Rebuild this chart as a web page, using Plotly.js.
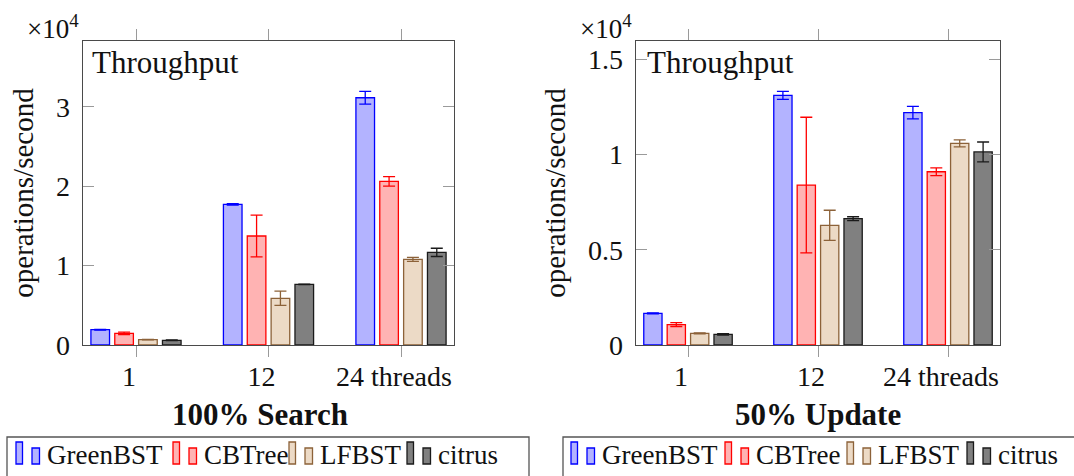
<!DOCTYPE html>
<html>
<head>
<meta charset="utf-8">
<script src="https://cdn.plot.ly/plotly-3.0.1.min.js"></script>
<style>
  html, body { margin: 0; padding: 0; background: #ffffff; }
  #chart { width: 1074px; height: 476px; }
</style>
</head>
<body>
<div id="chart"></div>
<script>
// ---- data (operations/second) ----
const threads = ['1', '12', '24'];
const tickLabels = ['1', '12', '24 threads'];
const seriesNames = ['GreenBST', 'CBTree', 'LFBST', 'citrus'];

// 100% Search
const searchGreenBST = [1930, 17720, 31150];
const searchGreenBSTErr = [40, 80, 800];
const searchCBTree = [1470, 13730, 20610];
const searchCBTreeErr = [150, 2620, 600];
const searchLFBST = [670, 5880, 10790];
const searchLFBSTErr = [30, 900, 250];
const searchCitrus = [590, 7640, 11670];
const searchCitrusErr = [40, 40, 520];

// 50% Update
const updateGreenBST = [1660, 13100, 12190];
const updateGreenBSTErr = [30, 210, 330];
const updateCBTree = [1070, 8390, 9090];
const updateCBTreeErr = [100, 3560, 200];
const updateLFBST = [610, 6280, 10580];
const updateLFBSTErr = [20, 790, 180];
const updateCitrus = [560, 6630, 10130];
const updateCitrusErr = [40, 100, 520];

const searchTicks = [0, 10000, 20000, 30000];
const searchTickText = ['0', '1', '2', '3'];
const updateTicks = [0, 5000, 10000, 15000];
const updateTickText = ['0', '0.5', '1', '1.5'];

// ---- styles ----
const FONT = 'Liberation Serif';
const styles = [
  { fill: '#b3b3ff', line: '#0000ff' },
  { fill: '#ffb3b3', line: '#ff0000' },
  { fill: '#ecdac6', line: '#8c6239' },
  { fill: '#808080', line: '#1a1a1a' }
];

function makeTrace(name, vals, errs, st, xa, ya) {
  return {
    type: 'bar', name: name, x: threads, y: vals,
    xaxis: xa, yaxis: ya, showlegend: false,
    marker: { color: st.fill, line: { color: st.line, width: 1.3 } },
    error_y: { type: 'data', array: errs, visible: true, color: st.line, thickness: 1.3, width: 6 },
    hoverinfo: 'skip'
  };
}

const searchSets = [[searchGreenBST, searchGreenBSTErr], [searchCBTree, searchCBTreeErr], [searchLFBST, searchLFBSTErr], [searchCitrus, searchCitrusErr]];
const updateSets = [[updateGreenBST, updateGreenBSTErr], [updateCBTree, updateCBTreeErr], [updateLFBST, updateLFBSTErr], [updateCitrus, updateCitrusErr]];

const traces = [];
searchSets.forEach((s, i) => traces.push(makeTrace(seriesNames[i], s[0], s[1], styles[i], 'x', 'y')));
updateSets.forEach((s, i) => traces.push(makeTrace(seriesNames[i], s[0], s[1], styles[i], 'x2', 'y2')));

const W = 1074, H = 476;
const px = v => v / W;
const py = v => 1 - v / H;

const xaxisBase = {
  type: 'category', range: [-0.4, 2.4],
  tickmode: 'array', tickvals: threads, ticktext: tickLabels,
  ticks: 'outside', ticklen: 11, tickwidth: 1, tickcolor: '#9a9a9a',
  showline: true, linecolor: '#4a4a4a', linewidth: 1.3, mirror: 'ticks',
  showgrid: false, zeroline: false, fixedrange: true,
  ticklabelshift: -7, ticklabelstandoff: -5,
  tickfont: { family: FONT, size: 28, color: '#111' }
};
const yaxisBase = {
  ticks: 'inside', ticklen: 11, tickwidth: 1, tickcolor: '#9a9a9a',
  showline: true, linecolor: '#4a4a4a', linewidth: 1.3, mirror: 'ticks',
  showgrid: false, zeroline: false, fixedrange: true,
  tickmode: 'array',
  ticklabelstandoff: 6,
  tickfont: { family: FONT, size: 28, color: '#111' },
  title: { text: 'operations/second', font: { family: FONT, size: 29, color: '#111' }, standoff: 14 }
};

// ---- legend boxes (drawn as keys + labels below each chart) ----
const legendBoxes = [
  { left: 7, right: 529, glyphs: [16, 173, 289, 407] },
  { left: 563, right: 1090, glyphs: [571, 725, 847, 967] }
];
const shapes = [];
const annotations = [];
legendBoxes.forEach(lb => {
  shapes.push({ type: 'rect', xref: 'paper', yref: 'paper', x0: px(lb.left), x1: px(lb.right), y0: py(437), y1: py(500),
    line: { color: '#555', width: 1.3 }, fillcolor: 'rgba(0,0,0,0)' });
  lb.glyphs.forEach((g, i) => {
    const st = styles[i];
    shapes.push({ type: 'rect', xref: 'paper', yref: 'paper', x0: px(g), x1: px(g + 6.5), y0: py(464), y1: py(442),
      line: { color: st.line, width: 1.3 }, fillcolor: st.fill });
    shapes.push({ type: 'rect', xref: 'paper', yref: 'paper', x0: px(g + 16), x1: px(g + 23.5), y0: py(464), y1: py(448),
      line: { color: st.line, width: 1.3 }, fillcolor: st.fill });
    annotations.push({ text: seriesNames[i], xref: 'paper', yref: 'paper', x: px(g + 29), y: py(455),
      xanchor: 'left', yanchor: 'middle', showarrow: false, font: { family: FONT, size: 27, color: '#111' } });
  });
});

annotations.push(
  { text: '×10<sup>4</sup>', xref: 'paper', yref: 'paper', x: px(53), y: py(27), xanchor: 'center', yanchor: 'middle', showarrow: false, font: { family: FONT, size: 27, color: '#111' } },
  { text: '×10<sup>4</sup>', xref: 'paper', yref: 'paper', x: px(606), y: py(27), xanchor: 'center', yanchor: 'middle', showarrow: false, font: { family: FONT, size: 27, color: '#111' } },
  { text: 'Throughput', xref: 'paper', yref: 'paper', x: px(90), y: py(63), xanchor: 'left', yanchor: 'middle', showarrow: false, font: { family: FONT, size: 31, color: '#111' } },
  { text: 'Throughput', xref: 'paper', yref: 'paper', x: px(645), y: py(63), xanchor: 'left', yanchor: 'middle', showarrow: false, font: { family: FONT, size: 31, color: '#111' } },
  { text: '<b>100% Search</b>', xref: 'paper', yref: 'paper', x: px(260), y: py(414), xanchor: 'center', yanchor: 'middle', showarrow: false, font: { family: FONT, size: 31, color: '#111' } },
  { text: '<b>50% Update</b>', xref: 'paper', yref: 'paper', x: px(818), y: py(414), xanchor: 'center', yanchor: 'middle', showarrow: false, font: { family: FONT, size: 31, color: '#111' } }
);

const layout = {
  width: W, height: H,
  margin: { l: 0, r: 0, t: 0, b: 0, autoexpand: false },
  paper_bgcolor: '#ffffff', plot_bgcolor: '#ffffff',
  barmode: 'group', bargap: 0.28, bargroupgap: 0.22,
  showlegend: false,
  font: { family: FONT, size: 27, color: '#111' },
  xaxis: Object.assign({}, xaxisBase, { domain: [px(83), px(454)], anchor: 'y' }),
  yaxis: Object.assign({}, yaxisBase, { domain: [py(345), py(41)], anchor: 'x', range: [0, 38300], tickvals: searchTicks, ticktext: searchTickText }),
  xaxis2: Object.assign({}, xaxisBase, { domain: [px(636), px(1000)], anchor: 'y2' }),
  yaxis2: Object.assign({}, yaxisBase, { domain: [py(345), py(41)], anchor: 'x2', range: [0, 15950], tickvals: updateTicks, ticktext: updateTickText }),
  shapes: shapes,
  annotations: annotations
};

Plotly.newPlot('chart', traces, layout, { displayModeBar: false, staticPlot: true });
</script>
</body>
</html>
